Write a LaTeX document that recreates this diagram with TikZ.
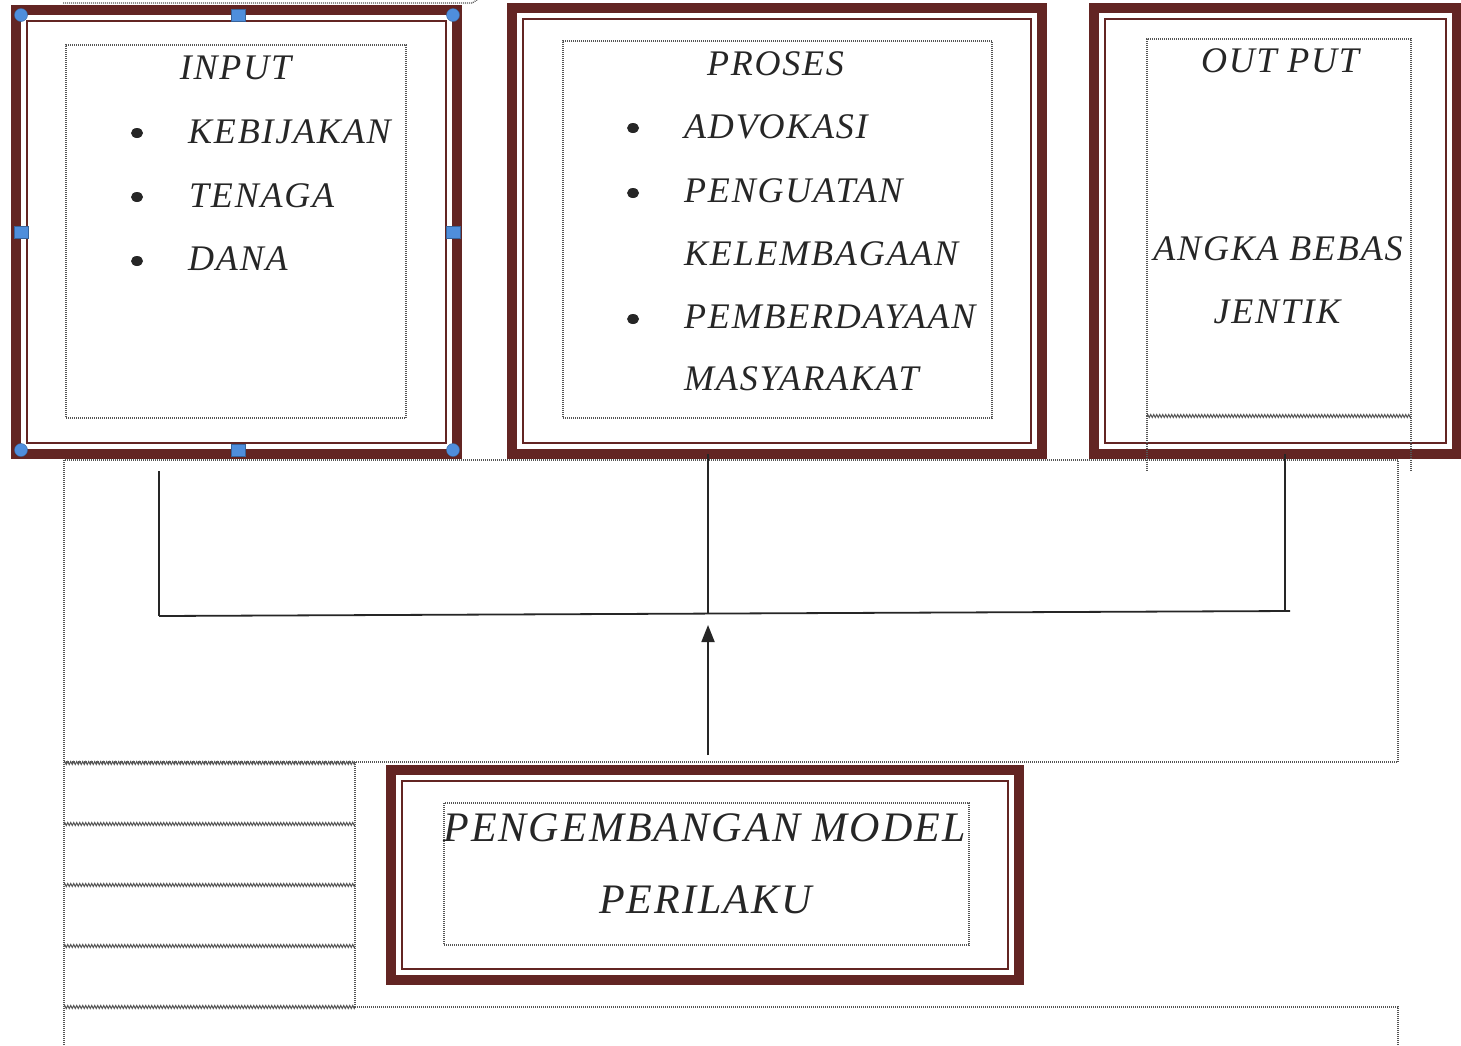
\documentclass[tikz,border=0pt]{standalone}
\usepackage{fontspec}
\setmainfont{Liberation Serif}[LetterSpace=5]
\usetikzlibrary{arrows.meta,decorations.pathmorphing,calc,shapes.geometric}
\definecolor{darkred}{HTML}{632523}
\definecolor{dotgray}{HTML}{555555}
\definecolor{hblue}{HTML}{4F8EDC}
\definecolor{ink}{HTML}{262626}
\newcommand\thinframe[1]{\draw[innerline] ([shift={(11,11)}]#1.north west) rectangle ([shift={(-11,-11)}]#1.south east);}
\begin{document}
\begin{tikzpicture}[x=1pt,y=-1pt,
  outerbox/.style={rectangle, draw=darkred, line width=10pt, fill=white, inner sep=0pt, outer sep=0pt, anchor=north west},
  innerline/.style={draw=darkred, line width=2.5pt},
  dotbox/.style={rectangle, draw=dotgray, line width=1.3pt, dash pattern=on 1pt off 1pt, inner sep=0pt, outer sep=0pt, anchor=north west},
  dotline/.style={draw=dotgray, line width=1.3pt, dash pattern=on 1pt off 1pt},
  zig/.style={draw=dotgray, line width=1pt, decorate, decoration={zigzag, amplitude=1.5pt, segment length=3pt}},
  lbl/.style={font=\fontsize{36}{40}\selectfont\itshape, text=ink, inner sep=0pt},
  biglbl/.style={font=\fontsize{42}{46}\selectfont\itshape, text=ink, inner sep=0pt},
  bul/.style={ellipse, fill=ink, inner sep=0pt, minimum width=12pt, minimum height=10pt},
  conn/.style={draw=ink, line width=1.8pt},
  hc/.style={circle, fill=hblue, draw=hblue!70!black, line width=0.4pt, inner sep=0pt, minimum size=13pt},
  hs/.style={rectangle, fill=hblue, draw=hblue!70!black, line width=0.4pt, inner sep=0pt, minimum width=14pt, minimum height=12pt}
]
\useasboundingbox (0,0) rectangle (1461,1045);
\fill[white] (0,0) rectangle (1461,1045);

% dotted layout frame
\draw[dotline] (63,3) -- (472,3) -- (477,0);
\draw[dotline] (64,460) rectangle (1398,762);
\draw[dotline] (64,762) -- (64,1045);
\draw[dotline] (355,762) -- (355,1007);
\draw[dotline] (355,1007) -- (1398,1007) -- (1398,1045);
\foreach \yy in {763,824,885,946,1007} {\draw[zig] (64,\yy) -- (355,\yy);}

% boxes
\node[outerbox, minimum width=441pt, minimum height=444pt] (b1) at (16,10) {};
\node[outerbox, minimum width=530pt, minimum height=446pt] (b2) at (512,8) {};
\node[outerbox, minimum width=363pt, minimum height=446pt] (b3) at (1094,8) {};
\node[outerbox, minimum width=628pt, minimum height=210pt] (b4) at (391,770) {};
\thinframe{b1}
\thinframe{b2}
\thinframe{b3}
\thinframe{b4}

% inner dotted text frames
\node[dotbox, minimum width=340pt, minimum height=373pt] (i1) at (66,45) {};
\node[dotbox, minimum width=429pt, minimum height=377pt] (i2) at (563,41) {};
\node[dotbox, minimum width=525pt, minimum height=142pt] (i4) at (444,803) {};
\draw[dotline] (1147,416) -- (1147,39) -- (1411,39) -- (1411,416);
\draw[zig] (1147,416) -- (1411,416);
\draw[dotline] (1147,416) -- (1147,472);
\draw[dotline] (1411,416) -- (1411,472);

% texts box 1
\node[lbl, anchor=base] (tin) at (235.5,79) {INPUT};
\node[bul] (p11) at (137,133) {};
\node[bul] (p12) at (137,197) {};
\node[bul] (p13) at (137,261) {};
\node[lbl, anchor=base west] (t11) at (188,143) {KEBIJAKAN};
\node[lbl, anchor=base west] (t12) at (189,207) {TENAGA};
\node[lbl, anchor=base west] (t13) at (188,270) {DANA};

% texts box 2
\node[lbl, anchor=base] (tpr) at (775.5,75) {PROSES};
\node[bul] (p21) at (633,128) {};
\node[bul] (p22) at (633,193) {};
\node[bul] (p23) at (633,319) {};
\node[lbl, anchor=base west] (t21) at (684,138) {ADVOKASI};
\node[lbl, anchor=base west] (t22) at (684,202) {PENGUATAN};
\node[lbl, anchor=base west] (t23) at (684,265) {KELEMBAGAAN};
\node[lbl, anchor=base west] (t24) at (684,328) {PEMBERDAYAAN};
\node[lbl, anchor=base west] (t25) at (684,390) {MASYARAKAT};

% texts box 3
\node[lbl, anchor=base] (tout) at (1280,72) {OUT PUT};
\node[lbl, anchor=base] (t31) at (1278,260) {ANGKA BEBAS};
\node[lbl, anchor=base] (t32) at (1277,323) {JENTIK};

% texts box 4
\node[biglbl, anchor=base] (t41) at (704.5,841) {PENGEMBANGAN MODEL};
\node[biglbl, anchor=base] (t42) at (705.5,913) {PERILAKU};

% connectors
\coordinate (l1) at (159,471);
\coordinate (jL) at (159,616);
\coordinate (jM) at (708,614);
\coordinate (jR) at (1290,611);
\coordinate (jR2) at (1285,611);
\coordinate (aT) at (708,625);
\draw[conn] (l1) -- (jL);
\draw[conn] (jL) -- (jR);
\draw[conn] (jM |- b2.south) -- (jM);
\draw[conn] (jR2 |- b3.south) -- (jR2);
\draw[conn, -{Triangle[length=17pt,width=13pt]}] ($(b4.north -| aT)+(0,-15)$) -- (aT);

% selection handles on box 1
\node[hc] (h1) at (21,15) {};
\node[hc] (h2) at (453,15) {};
\node[hc] (h3) at (21,450) {};
\node[hc] (h4) at (453,450) {};
\node[hs] (h5) at (238,15) {};
\node[hs] (h6) at (238,450) {};
\node[hs] (h7) at (21,232) {};
\node[hs] (h8) at (453,232) {};
\end{tikzpicture}
\end{document}
